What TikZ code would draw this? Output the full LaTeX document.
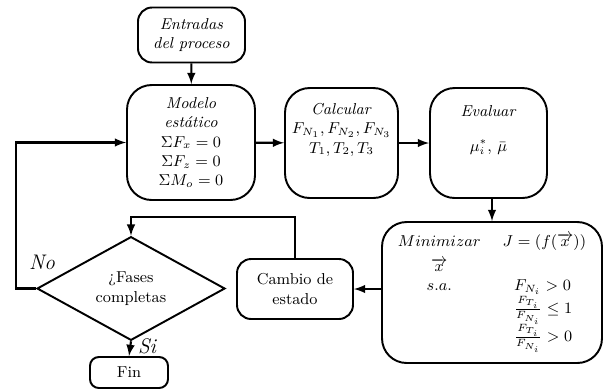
\documentclass[tikz,border=0pt]{standalone}
\usepackage{amsmath}
\usepackage{amssymb}
\usepackage{tikz}
\usetikzlibrary{shapes,arrows,positioning,calc}
\tikzset{
    stepBox/.style={
        draw=black,
        rounded corners=10pt,
        fill=white,
        line width=1.1pt,
        align=center,
        font=\small
    },
    choiceDiamond/.style={
        diamond,
        draw=black,
        fill=white,
        inner sep=0pt,
        line width=1.1pt,
        align=center,
        font=\small
    },
    flowArrow/.style={-latex, line width=1.2pt},
    branchLabel/.style={font=\large\itshape}
}

\begin{document}
\begin{tikzpicture}[x=0.02cm, y=-0.02cm,
    boxText/.style={font=\small, align=center, anchor=north}
]
    \useasboundingbox (0,0) rectangle (605,390);

    % Top row
    \node[stepBox, rounded corners=8pt, minimum width=2.14cm, minimum height=1.1cm] (ent) at (191.5,35) {\textit{Entradas}\\\textit{del proceso}};
    \node[stepBox, rounded corners=14pt, minimum width=2.56cm, minimum height=2.3cm] (mod) at (191,142.5) {\textit{Modelo}\\\textit{estático}\\$\Sigma F_x = 0$\\$\Sigma F_z = 0$\\$\Sigma M_o = 0$};

    % Calcular
    \node[stepBox, rounded corners=14pt, minimum width=2.26cm, minimum height=2.2cm] (calc) at (341.5,143) {};
    \node[boxText] at ($(calc.north)+(0,10)$) {\textit{Calcular}\\$F_{N_1}, F_{N_2}, F_{N_3}$\\$T_1, T_2, T_3$};

    % Evaluar
    \node[stepBox, rounded corners=14pt, minimum width=2.34cm, minimum height=2.2cm] (eval) at (488.5,143) {};
    \node[boxText] at ($(eval.north)+(0,12)$) {\textit{Evaluar}\\[9pt]$\mu_i^{*},\, \bar{\mu}$};

    % Optimization problem
    \node[stepBox, rounded corners=14pt, minimum width=4.4cm, minimum height=2.82cm] (opt) at (492,292.5) {$\begin{array}{cl}
        Minimizar & \;J = (f(\overrightarrow{x}))\\[3pt]
        \overrightarrow{x} & \\
        s.a. & \quad F_{N_i} > 0\\
             & \quad \frac{F_{T_i}}{F_{N_i}} \leq 1\\
             & \quad \frac{F_{T_i}}{F_{N_i}} > 0
    \end{array}$};

    % Bottom row
    \node[stepBox, rounded corners=8pt, minimum width=2.32cm, minimum height=1.2cm] (camb) at (295,289) {Cambio de\\estado};
    \node[choiceDiamond, minimum width=3.76cm, minimum height=1.86cm] (fases) at (131,288.5) {¿Fases\\completas};
    \node[stepBox, rounded corners=5pt, minimum width=1.56cm, minimum height=0.62cm] (fin) at (129,372.5) {Fin};

    % Labels
    \node[branchLabel] (no) at (42,262) {No};
    \node[branchLabel] (si) at (147,346) {Si};

    % Connectors
    \draw[flowArrow] (ent) -- (mod);
    \draw[flowArrow] (mod) -- (calc);
    \draw[flowArrow] (calc) -- (eval);
    \draw[flowArrow] (eval.south -| opt.north) -- (opt.north);
    \draw[flowArrow] (opt.west |- camb.east) -- (camb.east);
    \draw[flowArrow] (camb.north) -- ++(0,-41) -| (fases.north);
    \draw[flowArrow] (fases.south) -- (fin.north);
    \draw[flowArrow] (fases.west) -- ++(-20,0) |- (mod.west);

\end{tikzpicture}
\end{document}
